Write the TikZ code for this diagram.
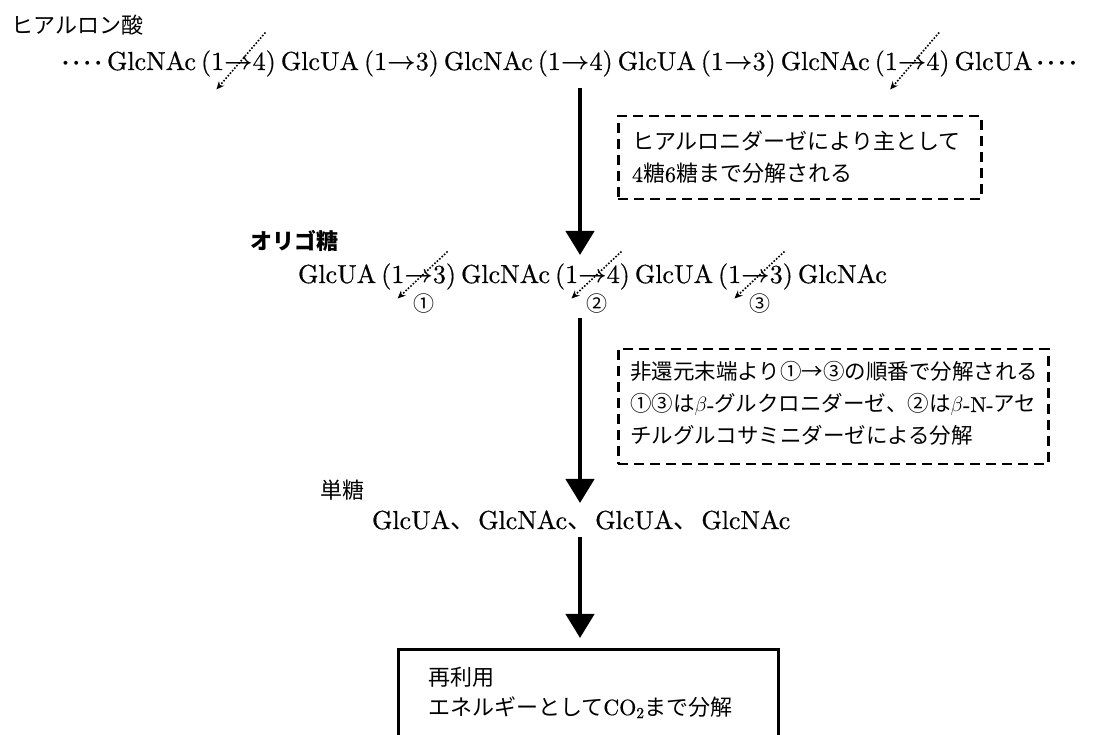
\documentclass[tikz,border=0pt]{standalone}
\usepackage{fontspec}
\setmainfont{lmroman10-regular.otf}[BoldFont=lmroman10-bold.otf, ItalicFont=lmroman10-italic.otf]
\newfontfamily\jp{Noto Sans CJK JP}
\newfontfamily\latb{lmroman10-regular.otf}[FakeBold=0.6]
\usetikzlibrary{arrows.meta}
\newcommand\fourdots{\makebox[11pt]{$\cdot$}\makebox[11pt]{$\cdot$}\makebox[11pt]{$\cdot$}\makebox[11pt]{$\cdot$}}
\begin{document}
\begin{tikzpicture}[x=1pt,y=1pt,
  seg/.style={inner sep=0pt, outer sep=0pt, anchor=base west, font=\fontsize{26}{30}\selectfont\latb\boldmath},
  jtxt/.style={inner sep=0pt, outer sep=0pt, anchor=base west, font=\fontsize{22}{26}\selectfont\jp},
  jsmall/.style={jtxt, font=\fontsize{21.5}{26}\selectfont\jp},
  cut/.style={line width=1.6pt, dash pattern=on 1.6pt off 1.7pt, -{Stealth[length=8pt,width=7pt]}},
  flow/.style={line width=4.5pt, -{Triangle[width=28pt,length=24pt]}},
  dbox/.style={draw, line width=2.5pt, dash pattern=on 10pt off 6pt, anchor=north west, inner sep=0pt},
  sbox/.style={draw, line width=3pt, anchor=north west, inner sep=0pt},
  circ/.style={inner sep=0pt, outer sep=0pt, font=\fontsize{21}{24}\selectfont\jp}
]
\clip (0,0) rectangle (1101,734);
\fill[white] (0,0) rectangle (1101,734);

% titles
\node[jtxt] (hya) at (12,700) {ヒアルロン酸};
\node[jtxt, font=\fontsize{22}{26}\selectfont\jp\bfseries] (oli) at (250,484.5) {オリゴ糖};
\node[jtxt] (mono) at (320,235) {単糖};

% row 1: hyaluronic acid
\node[seg] (r1a) at (60,664) {\fourdots};
\node[seg] (r1b) at ([xshift=3]r1a.base east) {GlcNAc};
\node[seg] (c1)  at ([xshift=5]r1b.base east) {(1$\to$4)};
\node[seg] (r1c) at ([xshift=5]c1.base east) {GlcUA};
\node[seg] (r1d) at ([xshift=5]r1c.base east) {(1$\to$3)};
\node[seg] (r1e) at ([xshift=5]r1d.base east) {GlcNAc};
\node[seg] (r1f) at ([xshift=5]r1e.base east) {(1$\to$4)};
\node[seg] (r1g) at ([xshift=5]r1f.base east) {GlcUA};
\node[seg] (r1h) at ([xshift=5]r1g.base east) {(1$\to$3)};
\node[seg] (r1i) at ([xshift=5]r1h.base east) {GlcNAc};
\node[seg] (c2)  at ([xshift=5]r1i.base east) {(1$\to$4)};
\node[seg] (r1j) at ([xshift=5]c2.base east) {GlcUA};
\node[seg] (r1k) at ([xshift=2]r1j.base east) {\fourdots};
\draw[cut] ([shift={(27,31)}]c1.center) -- ([shift={(-22,-26)}]c1.center);
\draw[cut] ([shift={(27,31)}]c2.center) -- ([shift={(-22,-26)}]c2.center);

% row 2: oligosaccharide
\node[seg] (o1) at (298,451) {GlcUA};
\node[seg] (d1) at ([xshift=5]o1.base east) {(1$\to$3)};
\node[seg] (o2) at ([xshift=5]d1.base east) {GlcNAc};
\node[seg] (d2) at ([xshift=5]o2.base east) {(1$\to$4)};
\node[seg] (o3) at ([xshift=5]d2.base east) {GlcUA};
\node[seg] (d3) at ([xshift=5]o3.base east) {(1$\to$3)};
\node[seg] (o4) at ([xshift=5]d3.base east) {GlcNAc};
\foreach \b/\k/\t in {d1/k1/①, d2/k2/②, d3/k3/③}{
  \draw[cut] ([shift={(29,25)}]\b.center) -- ([shift={(-21,-22)}]\b.center);
  \node[circ] (\k) at ([shift={(5,-27.5)}]\b.center) {\t};
}

% row 3: monosaccharides
\node[seg] (r3) at (372,205) {GlcUA{\jp 、}\hspace{2pt}GlcNAc{\jp 、}\hspace{2pt}GlcUA{\jp 、}\hspace{2pt}GlcNAc};

% main flow arrows
\coordinate (a1s) at (580,646);
\coordinate (a1e) at (580,479);
\coordinate (a2s) at (580,416);
\coordinate (a2e) at (580,231);
\coordinate (a3s) at (580,197);
\coordinate (a3e) at (580,96);
\draw[flow] (a1s) -- (a1e);
\draw[flow] (a2s) -- (a2e);
\draw[flow] (a3s) -- (a3e);

% box 1
\node[dbox, minimum width=363, minimum height=83] (b1) at (617,619) {};
\node[jtxt] (b1l1) at (632,584) {ヒアルロニダーゼにより主として};
\node[jtxt] (b1l2) at (632,552) {{\latb 4}糖{\latb 6}糖まで分解される};

% box 2
\node[dbox, minimum width=430, minimum height=115] (b2) at (617,386) {};
\node[jsmall] (b2l1) at (630,354) {非還元末端より①→③の順番で分解される};
\node[jsmall] (b2l2) at (630,322) {①③は{\latb$\beta$-}グルクロニダーゼ、②は{\latb$\beta$-N-}アセ};
\node[jsmall] (b2l3) at (630,290) {チルグルコサミニダーゼによる分解};

% box 3
\node[sbox, minimum width=380, minimum height=150] (b3) at (397,86) {};
\node[jtxt] (b3l1) at (428,48) {再利用};
\node[jtxt] (b3l2) at (428,19) {エネルギーとして{\latb CO\textsubscript{2}}まで分解};
\end{tikzpicture}
\end{document}
